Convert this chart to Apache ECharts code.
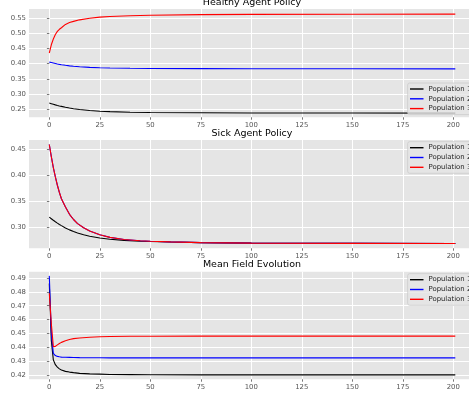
<!DOCTYPE html>
<html><head><meta charset="utf-8">
<script src="https://cdn.jsdelivr.net/npm/echarts@6/dist/echarts.min.js"></script>
<style>html,body{margin:0;padding:0;background:#fff}#c{width:469px;height:400px}</style>
</head><body><div id="c"></div><script>
// ---- data ----
const seriesNames = ['Population 1', 'Population 2', 'Population 3'];
const seriesColors = ['#000000', '#0000ff', '#ff0000'];
const panelTitles = ['Healthy Agent Policy', 'Sick Agent Policy', 'Mean Field Evolution'];
const xTicks = [0, 25, 50, 75, 100, 125, 150, 175, 200];
const healthyYTicks = [0.25, 0.30, 0.35, 0.40, 0.45, 0.50, 0.55];
const sickYTicks = [0.30, 0.35, 0.40, 0.45];
const meanYTicks = [0.42, 0.43, 0.44, 0.45, 0.46, 0.47, 0.48, 0.49];

const healthyX = [0, 1, 2, 3, 4, 5, 6, 8, 10, 12, 15, 20, 25, 30, 40, 50, 75, 100, 150, 201];
const healthyP1 = [0.2705, 0.2685, 0.2665, 0.2645, 0.2627, 0.2610, 0.2595, 0.2565, 0.2540, 0.2520, 0.2493, 0.2460, 0.2438, 0.2423, 0.2405, 0.2395, 0.2385, 0.2380, 0.2377, 0.2375];
const healthyP2 = [0.4050, 0.4035, 0.4020, 0.4005, 0.3990, 0.3977, 0.3965, 0.3945, 0.3928, 0.3913, 0.3897, 0.3878, 0.3866, 0.3858, 0.3848, 0.3842, 0.3836, 0.3833, 0.3831, 0.3830];
const healthyP3 = [0.4350, 0.4620, 0.4810, 0.4960, 0.5060, 0.5130, 0.5180, 0.5290, 0.5350, 0.5390, 0.5440, 0.5490, 0.5530, 0.5550, 0.5575, 0.5590, 0.5610, 0.5620, 0.5625, 0.5628];

const sickX = [0, 1, 2, 3, 4, 5, 6, 8, 10, 12, 14, 17, 20, 25, 30, 37, 45, 50, 60, 75, 100, 150, 201];
const sickP1 = [0.3195, 0.3165, 0.3135, 0.3107, 0.3080, 0.3055, 0.3032, 0.2988, 0.2950, 0.2918, 0.2890, 0.2855, 0.2828, 0.2792, 0.2768, 0.2748, 0.2732, 0.2725, 0.2715, 0.2705, 0.2695, 0.2690, 0.2688];
const sickP2 = [0.4595, 0.4360, 0.4150, 0.3970, 0.3810, 0.3670, 0.3550, 0.3390, 0.3250, 0.3150, 0.3070, 0.2990, 0.2930, 0.2855, 0.2805, 0.2765, 0.2740, 0.2730, 0.2718, 0.2705, 0.2695, 0.2690, 0.2688];
const sickP3 = [0.4595, 0.4360, 0.4150, 0.3970, 0.3810, 0.3670, 0.3550, 0.3390, 0.3250, 0.3150, 0.3070, 0.2990, 0.2930, 0.2855, 0.2805, 0.2765, 0.2740, 0.2730, 0.2718, 0.2705, 0.2695, 0.2690, 0.2688];

const meanX = [0, 1, 2, 3, 4, 5, 6, 8, 10, 12, 15, 20, 25, 30, 40, 50, 75, 100, 150, 201];
const meanP1 = [0.4860, 0.4450, 0.4310, 0.4275, 0.4258, 0.4245, 0.4237, 0.4227, 0.4222, 0.4218, 0.4213, 0.4209, 0.4207, 0.4205, 0.4204, 0.4203, 0.4202, 0.4202, 0.4202, 0.4202];
const meanP2 = [0.4915, 0.4500, 0.4357, 0.4341, 0.4335, 0.4332, 0.4330, 0.4329, 0.4328, 0.4327, 0.4326, 0.4325, 0.4325, 0.4324, 0.4324, 0.4324, 0.4324, 0.4324, 0.4324, 0.4324];
const meanP3 = [0.4790, 0.4571, 0.4405, 0.4407, 0.4418, 0.4428, 0.4436, 0.4448, 0.4457, 0.4463, 0.4468, 0.4473, 0.4476, 0.4478, 0.4480, 0.4480, 0.4481, 0.4481, 0.4481, 0.4481];

// ---- layout ----
const panels = [
  {x: healthyX, ys: [healthyP1, healthyP2, healthyP3], yTicks: healthyYTicks, yMin: 0.2237, yMax: 0.5796,
   grid: {left: 29, top: 9, width: 446.6, height: 108.3}, legendTop: 83, titleTop: -2.8},
  {x: sickX, ys: [sickP1, sickP2, sickP3], yTicks: sickYTicks, yMin: 0.2595, yMax: 0.4682,
   grid: {left: 29, top: 140, width: 446.6, height: 108.3}, legendTop: 141.7, titleTop: 128.2},
  {x: meanX, ys: [meanP1, meanP2, meanP3], yTicks: meanYTicks, yMin: 0.4170, yMax: 0.4945,
   grid: {left: 29, top: 271.7, width: 446.6, height: 107.6}, legendTop: 273.7, titleTop: 259.9}
];

const FONT = 'DejaVu Sans';
const option = {
  animation: false,
  backgroundColor: '#ffffff',
  title: [], grid: [], xAxis: [], yAxis: [], legend: [], series: []
};

panels.forEach((p, i) => {
  option.title.push({
    text: panelTitles[i], left: 252, top: p.titleTop, textAlign: 'center', padding: 0,
    textStyle: {fontFamily: FONT, fontSize: 9.5, fontWeight: 'normal', color: '#000'}
  });
  option.grid.push(Object.assign({show: true, backgroundColor: '#E5E5E5', borderWidth: 0,
    containLabel: false, outerBoundsMode: 'none'}, p.grid));
  option.xAxis.push({
    type: 'value', gridIndex: i, min: -10.05, max: 211.05,
    axisLine: {show: false},
    axisTick: {show: true, customValues: xTicks, length: 2.4, lineStyle: {color: '#555', width: 0.8}},
    axisLabel: {customValues: xTicks, fontFamily: FONT, fontSize: 6.9, color: '#555', margin: 4.5,
                formatter: v => String(v)},
    splitLine: {show: true, lineStyle: {color: '#ffffff', width: 1}}
  });
  option.yAxis.push({
    type: 'value', gridIndex: i, min: p.yMin, max: p.yMax,
    axisLine: {show: false},
    axisTick: {show: true, customValues: p.yTicks, length: 2.4, lineStyle: {color: '#555', width: 0.8}},
    axisLabel: {customValues: p.yTicks, fontFamily: FONT, fontSize: 6.9, color: '#555', margin: 3,
                formatter: v => v.toFixed(2)},
    splitLine: {show: true, lineStyle: {color: '#ffffff', width: 1}}
  });
  option.legend.push({
    data: seriesNames, orient: 'vertical', left: 407.7, top: p.legendTop,
    padding: [2, 4, 2, 2.3], icon: 'rect', itemWidth: 13.5, itemHeight: 1.4, itemGap: 1.8,
    textStyle: {fontFamily: FONT, fontSize: 6.9, lineHeight: 8, color: '#222'},
    backgroundColor: 'rgba(229,229,229,0.8)', borderColor: '#cccccc', borderWidth: 0.8, borderRadius: 2,
    selectedMode: false
  });
  p.ys.forEach((ys, k) => {
    option.series.push({
      name: seriesNames[k], type: 'line', xAxisIndex: i, yAxisIndex: i,
      showSymbol: false, symbol: 'none', smooth: false,
      color: seriesColors[k],
      lineStyle: {color: seriesColors[k], width: 1.1},
      data: p.x.map((xv, j) => [xv, ys[j]])
    });
  });
});

const chart = echarts.init(document.getElementById('c'), null, {renderer: 'canvas'});
chart.setOption(option);
</script></body></html>
